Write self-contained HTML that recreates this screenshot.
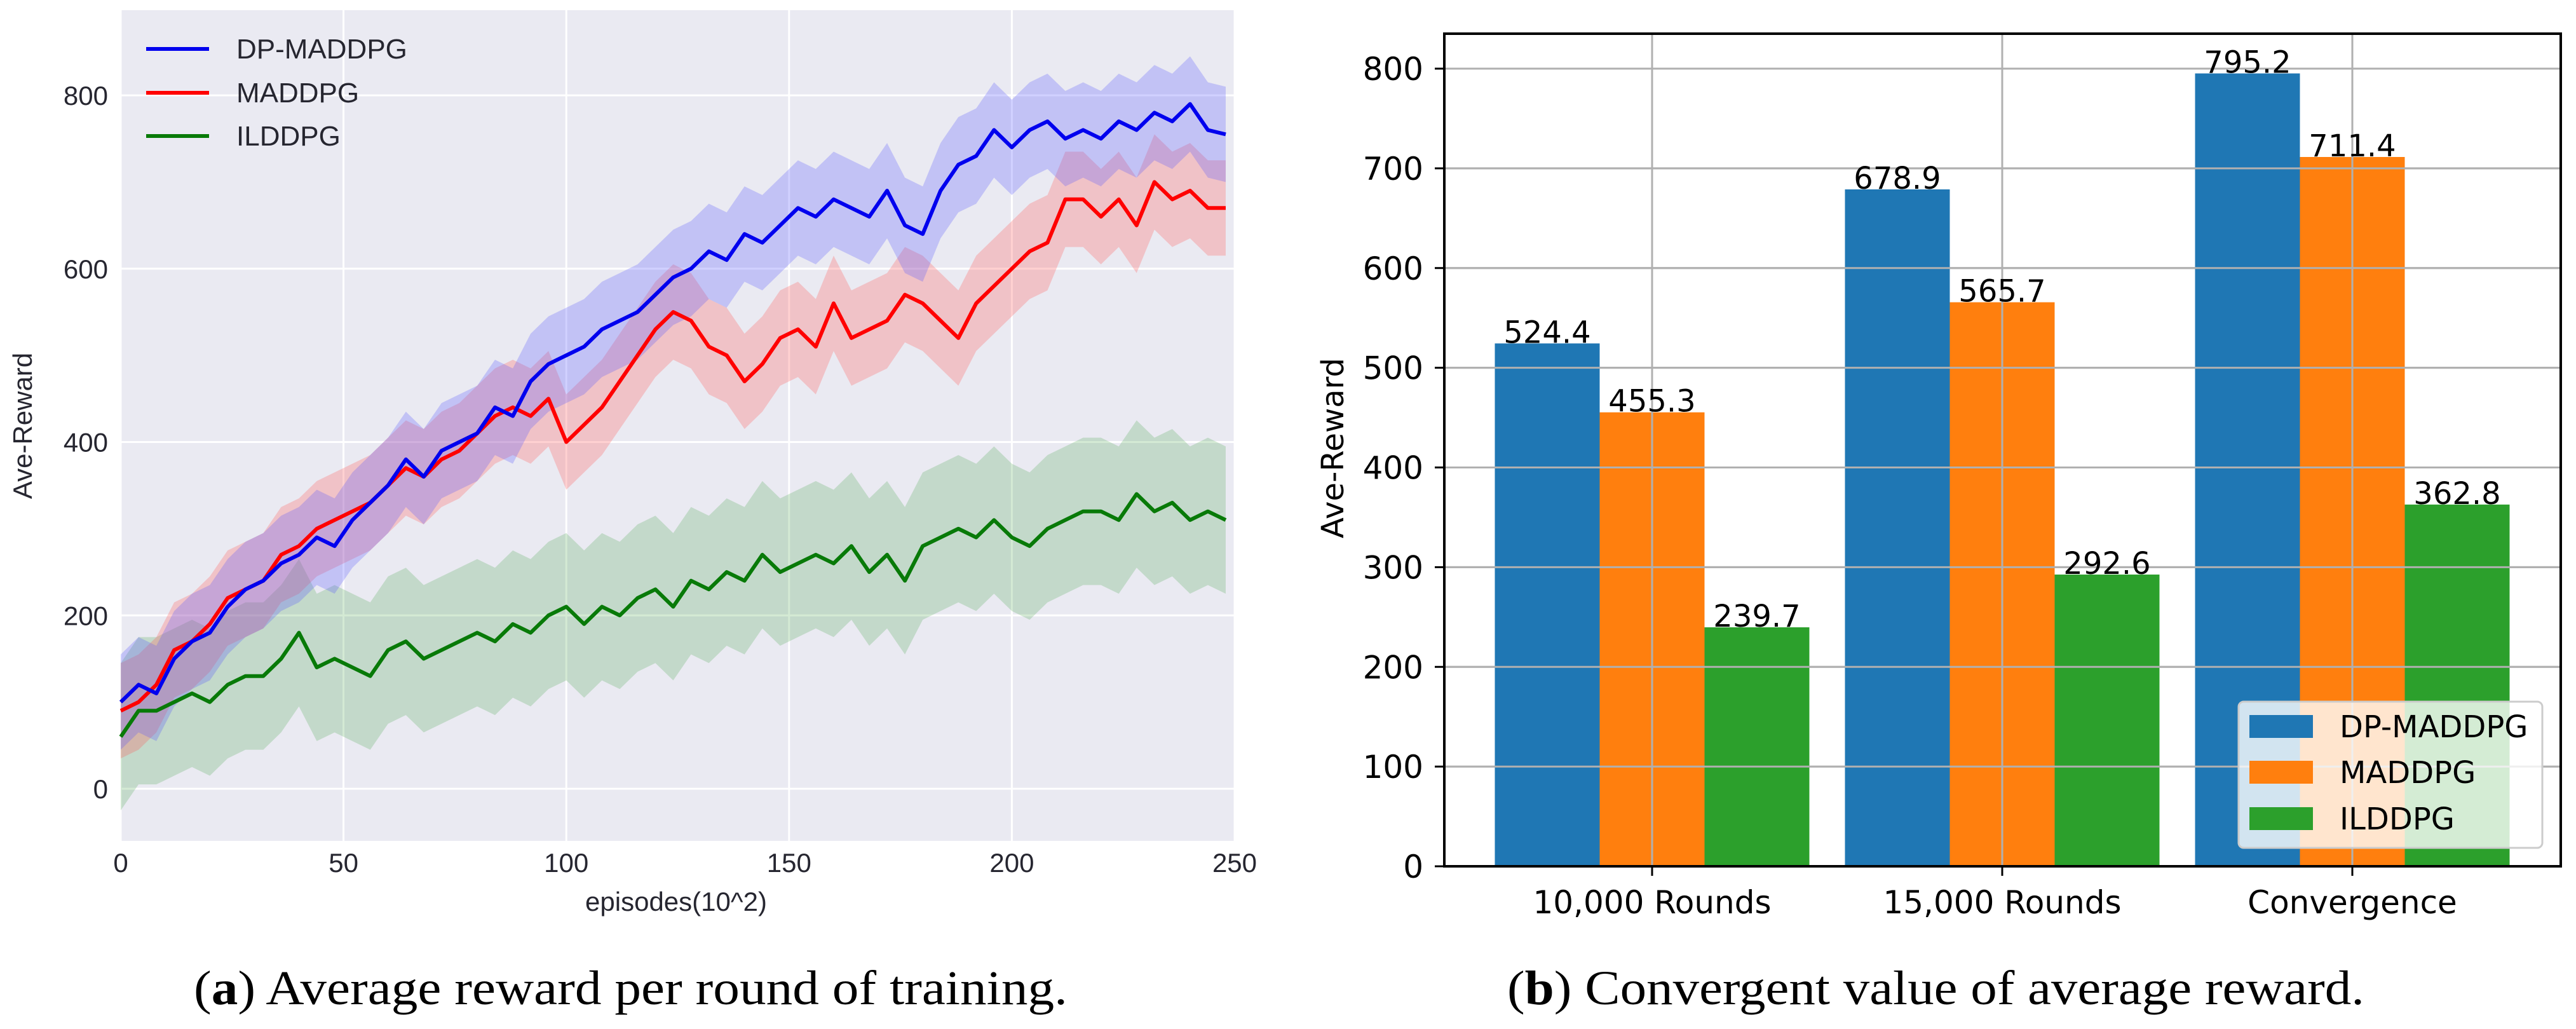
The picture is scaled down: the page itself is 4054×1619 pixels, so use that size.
<!DOCTYPE html>
<html><head><meta charset="utf-8"><style>
html,body{margin:0;padding:0;background:#fff;}
svg{display:block;}
</style></head><body>
<svg id="fig" width="4054" height="1619" viewBox="0 0 4054 1619" xmlns="http://www.w3.org/2000/svg">
<g id="left"></g>
<g id="right"></g>
<text x="305" y="1580" textLength="1375" lengthAdjust="spacingAndGlyphs" font-family="Liberation Serif, serif" font-size="76">(<tspan font-weight="bold">a</tspan>) Average reward per round of training.</text>
<text x="2372" y="1580" textLength="1349" lengthAdjust="spacingAndGlyphs" font-family="Liberation Serif, serif" font-size="76">(<tspan font-weight="bold">b</tspan>) Convergent value of average reward.</text>
</svg>
<script>
// ---------- left chart data ----------
const episodeStep = 4;
const dpMaddpg = [100,120,110,150,170,180,210,230,240,260,270,290,280,310,330,350,380,360,390,400,410,440,430,470,490,500,510,530,540,550,570,590,600,620,610,640,630,650,670,660,680,670,660,690,650,640,690,720,730,760,740,760,770,750,760,750,770,760,780,770,790,760,755];
const maddpg = [90,100,120,160,170,190,220,230,240,270,280,300,310,320,330,350,370,360,380,390,410,430,440,430,450,400,420,440,470,500,530,550,540,510,500,470,490,520,530,510,560,520,530,540,570,560,540,520,560,580,600,620,630,680,680,660,680,650,700,680,690,670,670];
const ilddpg = [60,90,90,100,110,100,120,130,130,150,180,140,150,140,130,160,170,150,160,170,180,170,190,180,200,210,190,210,200,220,230,210,240,230,250,240,270,250,260,270,260,280,250,270,240,280,290,300,290,310,290,280,300,310,320,320,310,340,320,330,310,320,310];
const bandSpread = [55, 55, 85];
const xTicks = [0,50,100,150,200,250];
const yTicksL = [0,200,400,600,800];

// ---------- right chart data ----------
const categories = ["10,000 Rounds","15,000 Rounds","Convergence"];
const dpValues = [524.4, 678.9, 795.2];
const maValues = [455.3, 565.7, 711.4];
const ilValues = [239.7, 292.6, 362.8];
const yTicksR = [0,100,200,300,400,500,600,700,800];

const NS = "http://www.w3.org/2000/svg";
function mk(parent, tag, attrs, text){
  const e = document.createElementNS(NS, tag);
  for (const k in attrs) e.setAttribute(k, attrs[k]);
  if (text !== undefined) e.textContent = text;
  parent.appendChild(e);
  return e;
}

// ---------- LEFT ----------
(function(){
  const g = document.getElementById('left');
  const X0 = 190, X1 = 1943, PT = 16, PB = 1323;
  const xs = v => X0 + (v/250)*(X1-X0);
  const ys = v => 1241 - v*(1241-150)/800;
  const bg = mk(g,'rect',{x:X0,y:PT,width:X1-X0,height:PB-PT,fill:'#eaeaf2'});
  
  
  xTicks.forEach(t=>{
    const l = mk(g,'line',{x1:xs(t),x2:xs(t),y1:PT,y2:PB,stroke:'#fff','stroke-width':3});
    
    
    const tx = mk(g,'text',{x:xs(t),y:1372,'text-anchor':'middle','font-family':'Liberation Sans, sans-serif','font-size':42,fill:'#262630'},String(t));
    
    
  });
  yTicksL.forEach(t=>{
    const l = mk(g,'line',{x1:X0,x2:X1,y1:ys(t),y2:ys(t),stroke:'#fff','stroke-width':3});
    
    
    const tx = mk(g,'text',{x:170,y:ys(t)+15,'text-anchor':'end','font-family':'Liberation Sans, sans-serif','font-size':42,fill:'#262630'},String(t));
    
    
  });
  const series = [
    {d:ilddpg, c:'#087a08', band:'rgba(60,160,60,0.22)', name:'ilddpg', s:bandSpread[2]},
    {d:maddpg, c:'#ff0000', band:'rgba(255,90,90,0.28)', name:'maddpg', s:bandSpread[1]},
    {d:dpMaddpg, c:'#0000ee', band:'rgba(90,90,255,0.28)', name:'dp-maddpg', s:bandSpread[0]}
  ];
  series.forEach(se=>{
    let up='', lo='';
    se.d.forEach((v,i)=>{ up += (i?'L':'M')+xs(i*episodeStep)+','+ys(v+se.s); });
    for(let i=se.d.length-1;i>=0;i--){ lo += 'L'+xs(i*episodeStep)+','+ys(se.d[i]-se.s); }
    const b = mk(g,'path',{d:up+lo+'Z',fill:se.band});
    
    
  });
  series.forEach(se=>{
    let p='';
    se.d.forEach((v,i)=>{ p += (i?'L':'M')+xs(i*episodeStep)+','+ys(v); });
    const l = mk(g,'path',{d:p,fill:'none',stroke:se.c,'stroke-width':6,'stroke-linejoin':'round'});
    
    
  });
  const leg = [['DP-MADDPG','#0000ee',77],['MADDPG','#ff0000',146],['ILDDPG','#087a08',214]];
  leg.forEach(([n,c,y])=>{
    const e = mk(g,'g',{});
    
    
    mk(e,'line',{x1:230,x2:329,y1:y,y2:y,stroke:c,'stroke-width':6});
    mk(e,'text',{x:372,y:y+15,'font-family':'Liberation Sans, sans-serif','font-size':44,fill:'#262630'},n);
  });
  const xl = mk(g,'text',{x:1064,y:1433,'text-anchor':'middle','font-family':'Liberation Sans, sans-serif','font-size':42,fill:'#262630'},'episodes(10^2)');
  
  
  const yl = mk(g,'text',{x:0,y:0,transform:'translate(50,670) rotate(-90)','text-anchor':'middle','font-family':'Liberation Sans, sans-serif','font-size':42,fill:'#262630'},'Ave-Reward');
  
  
})();

// ---------- RIGHT ----------
(function(){
  const g = document.getElementById('right');
  const AL = 2273, AR = 4030, AT = 53, AB = 1363;
  const ys = v => AB - v*(AB-108)/800;
  const centers = [2600, 3151, 3702];
  const bw = 165;
  const xc = i => centers[i];
  yTicksR.forEach(t=>{
    const l = mk(g,'line',{x1:AL,x2:AR,y1:ys(t),y2:ys(t),stroke:'#b0b0b0','stroke-width':3});
    
    
    mk(g,'line',{x1:AL-15,x2:AL,y1:ys(t),y2:ys(t),stroke:'#000','stroke-width':3});
    const tx = mk(g,'text',{x:2240,y:ys(t)+18,'text-anchor':'end','font-family':'DejaVu Sans, sans-serif','font-size':50,fill:'#000'},String(t));
    
    
  });
  const groups = [[dpValues,'#1f77b4','dp-maddpg'],[maValues,'#ff7f0e','maddpg'],[ilValues,'#2ca02c','ilddpg']];
  groups.forEach(([vals,col,nm],k)=>{
    vals.forEach((v,i)=>{
      const x = xc(i) - 1.5*bw + k*bw;
      const r = mk(g,'rect',{x:x,y:ys(v),width:bw,height:AB-ys(v),fill:col});
      
      
    });
  });
  yTicksR.forEach(t=>{ mk(g,'line',{x1:AL,x2:AR,y1:ys(t),y2:ys(t),stroke:'#b0b0b0','stroke-width':3}); });
  categories.forEach((c,i)=>{
    mk(g,'line',{x1:xc(i),x2:xc(i),y1:AT,y2:AB,stroke:'#b0b0b0','stroke-width':3});
    mk(g,'line',{x1:xc(i),x2:xc(i),y1:AB,y2:AB+15,stroke:'#000','stroke-width':3});
    const tx = mk(g,'text',{x:xc(i),y:1437,'text-anchor':'middle','font-family':'DejaVu Sans, sans-serif','font-size':50,fill:'#000'},c);
    
    
  });
  groups.forEach(([vals,col,nm],k)=>{
    vals.forEach((v,i)=>{
      const x = xc(i) - 1.5*bw + k*bw;
      const t = mk(g,'text',{x:x+bw/2,y:ys(v)-1,'text-anchor':'middle','font-family':'DejaVu Sans, sans-serif','font-size':48,fill:'#000'},v.toFixed(1));
      
      
    });
  });
  const frame = mk(g,'rect',{x:AL,y:AT,width:AR-AL,height:AB-AT,fill:'none',stroke:'#000','stroke-width':4});
  
  
  const yl = mk(g,'text',{x:0,y:0,transform:'translate(2114,705) rotate(-90)','text-anchor':'middle','font-family':'DejaVu Sans, sans-serif','font-size':48,fill:'#000'},'Ave-Reward');
  
  
  const lg = mk(g,'g',{});
  
  
  mk(lg,'rect',{x:3523,y:1104,width:478,height:230,rx:8,fill:'rgba(255,255,255,0.8)',stroke:'#cccccc','stroke-width':3});
  [['DP-MADDPG','#1f77b4',1143],['MADDPG','#ff7f0e',1215],['ILDDPG','#2ca02c',1288]].forEach(([n,c,y])=>{
    const e = mk(lg,'g',{});
    
    
    mk(e,'rect',{x:3540,y:y-18,width:100,height:36,fill:c});
    mk(e,'text',{x:3682,y:y+17,'font-family':'DejaVu Sans, sans-serif','font-size':48,fill:'#000'},n);
  });
})();
</script>
</body></html>
